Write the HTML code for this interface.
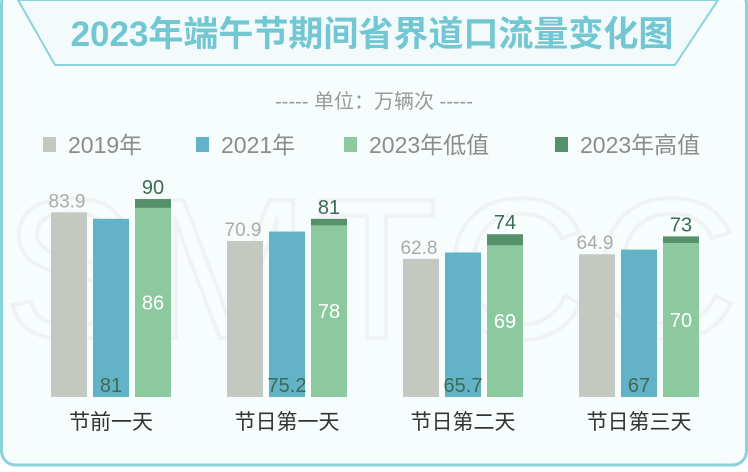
<!DOCTYPE html>
<html><head><meta charset="utf-8"><style>
html,body{margin:0;padding:0;}
body{width:748px;height:467px;overflow:hidden;background:#fff;font-family:"Liberation Sans","Noto Sans CJK SC",sans-serif;}
</style></head><body>
<svg id="chart" width="748" height="467" xmlns="http://www.w3.org/2000/svg" font-family="Liberation Sans, Noto Sans CJK SC, sans-serif">
<rect x="1.5" y="-10" width="745" height="475" rx="14" fill="#f7fcfd" stroke="#8ad3dc" stroke-width="3"/>
<path d="M18 0 L718 0 L675 65 L55 65 Z" fill="#f2fafb" stroke="#8ad3dc" stroke-width="2"/>
<text x="372" y="46" text-anchor="middle" font-size="35" font-weight="bold" fill="#72c7d3">2023年端午节期间省界道口流量变化图</text>
<text x="374" y="108" text-anchor="middle" font-size="20" fill="#9a9a9a">----- 单位：万辆次 -----</text>
<text x="374" y="338" text-anchor="middle" font-size="200" fill="none" stroke="#f0f3f3" stroke-width="4" letter-spacing="6">SMTCC</text>
<g id="legend"></g>
<g id="bars"></g>
</svg>
<script>
const categories = ["节前一天","节日第一天","节日第二天","节日第三天"];
const v2019 = [83.9, 70.9, 62.8, 64.9];
const v2021 = [81, 75.2, 65.7, 67];
const v2023low = [86, 78, 69, 70];
const v2023high = [90, 81, 74, 73];
const legendLabels = ["2019年","2021年","2023年低值","2023年高值"];
const colors = ["#c3c9c1","#62b3c8","#8cc99f","#57916b"];
const NS="http://www.w3.org/2000/svg";
const baseY=397, scale=2.2;
function y(v){return baseY - v*scale;}
function xg(i){return 51 + i*176;}
const bw=36, pitch=42;
const svg=document.getElementById('bars');
function mk(tag,attrs,parent){const e=document.createElementNS(NS,tag);for(const k in attrs)e.setAttribute(k,attrs[k]);parent.appendChild(e);return e;}
function txt(x,yy,s,size,fill,parent){const t=mk('text',{x:x,y:yy,'text-anchor':'middle','font-size':size,fill:fill},parent);t.textContent=s;return t;}
const lg=document.getElementById('legend');
const lx=[43,196,344,555];
legendLabels.forEach((l,i)=>{
  const r=mk('rect',{x:lx[i],y:137,width:13,height:15,fill:colors[i]},lg);
  
  
  const t=mk('text',{x:lx[i]+25,y:153,'font-size':23,fill:'#8c8c8c'},lg);
  t.textContent=l;
  
  
});
categories.forEach((c,i)=>{
  const x0=xg(i);
  const g=mk('rect',{x:x0,y:y(v2019[i]),width:bw,height:v2019[i]*scale,fill:colors[0]},svg);
  
  
  const l1=txt(x0+bw/2-2,y(v2019[i])-5,String(v2019[i]),19,'#a9aca7',svg);
  
  
  const b=mk('rect',{x:x0+pitch,y:y(v2021[i]),width:bw,height:v2021[i]*scale,fill:colors[1]},svg);
  
  
  const l2=txt(x0+pitch+bw/2,baseY-5,String(v2021[i]),20,'#3e6b52',svg);
  
  
  const hi=mk('rect',{x:x0+2*pitch,y:y(v2023high[i]),width:bw,height:v2023high[i]*scale,fill:colors[3]},svg);
  
  
  const lo=mk('rect',{x:x0+2*pitch,y:y(v2023low[i]),width:bw,height:v2023low[i]*scale,fill:colors[2]},svg);
  
  
  const l3=txt(x0+2*pitch+bw/2,(y(v2023low[i])+baseY)/2+7,String(v2023low[i]),20,'#ffffff',svg);
  
  
  const l4=txt(x0+2*pitch+bw/2,y(v2023high[i])-5,String(v2023high[i]),20,'#3e6b52',svg);
  
  
  const cl=txt(x0+pitch+bw/2,429,c,21,'#333333',svg);
  
  
});
</script>
</body></html>
